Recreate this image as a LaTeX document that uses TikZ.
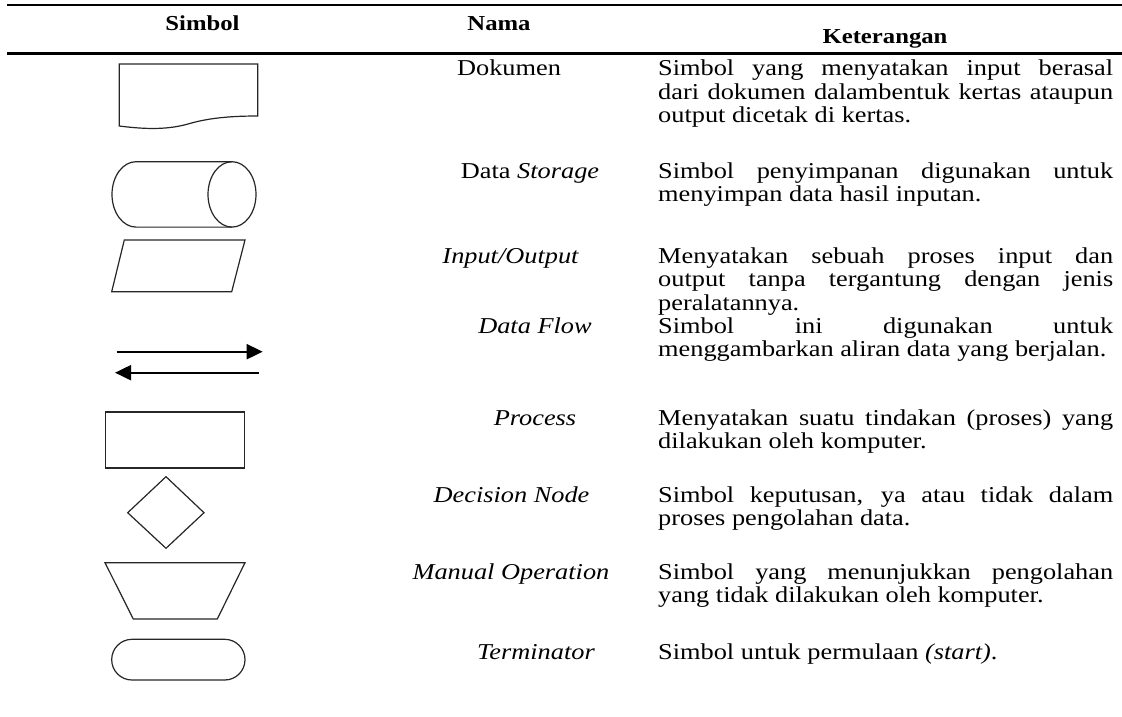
\documentclass[tikz,border=0pt]{standalone}
\usepackage{fontspec}
\setmainfont{Liberation Serif}[FakeStretch=1.16]
\usetikzlibrary{arrows.meta}
\hbadness=10000
\hfuzz=8pt
\begin{document}
\begin{tikzpicture}[x=1pt,y=-1pt,
  shp/.style={draw=black!85, line width=1.2pt, line join=miter},
  rulestyle/.style={line width=2.4pt},
  hdr/.style={font=\fontsize{21.3}{23}\selectfont\bfseries, inner sep=0, anchor=base},
  nm/.style={font=\fontsize{22.7}{23.5}\selectfont\itshape, inner sep=0, anchor=base},
  desc/.style={font=\fontsize{22.7}{23.5}\selectfont, inner sep=0, anchor=base west, text width=455pt, align=justify},
  flow/.style={line width=2pt, -{Triangle[length=16pt,width=15pt]}}]
\useasboundingbox (0,0) rectangle (1122,717);
\fill[white] (0,0) rectangle (1122,717);

% rules
\coordinate (r1a) at (7,5);   \coordinate (r1b) at (1122,5);
\coordinate (r2a) at (7,53.5); \coordinate (r2b) at (1122,53.5);
\draw[rulestyle] (r1a) -- (r1b);
\draw[rulestyle] (r2a) -- (r2b);

% header
\node[hdr] (hSimbol) at (202.5,31) {Simbol};
\node[hdr] (hNama) at (499,31) {Nama};
\node[hdr] (hKet) at (885,44) {Keterangan};

% names
\node[nm] (n1) at (509,76) {\upshape Dokumen};
\node[nm] (n2) at (530,178) {\upshape Data \itshape Storage};
\node[nm] (n3) at (510.5,263) {Input/Output};
\node[nm] (n4) at (535,333) {Data Flow};
\node[nm] (n5) at (535,425) {Process};
\node[nm] (n6) at (511.5,502) {Decision Node};
\node[nm] (n7) at (511,579) {Manual Operation};
\node[nm] (n8) at (536,659) {Terminator};

% descriptions
\node[desc] (d1) at (658,76) {Simbol yang menyatakan input berasal\linebreak dari dokumen dalambentuk kertas ataupun\linebreak output dicetak di kertas.};
\node[desc] (d2) at (658,178) {Simbol penyimpanan digunakan untuk\linebreak menyimpan data hasil inputan.};
\node[desc] (d3) at (658,263) {Menyatakan sebuah proses input dan\linebreak output tanpa tergantung dengan jenis\linebreak peralatannya.};
\node[desc] (d4) at (658,333) {Simbol ini digunakan untuk\linebreak menggambarkan aliran data yang berjalan.};
\node[desc] (d5) at (658,425) {Menyatakan suatu tindakan (proses) yang\linebreak dilakukan oleh komputer.};
\node[desc] (d6) at (658,502) {Simbol keputusan, ya atau tidak dalam\linebreak proses pengolahan data.};
\node[desc] (d7) at (658,579) {Simbol yang menunjukkan pengolahan\linebreak yang tidak dilakukan oleh komputer.};
\node[desc] (d8) at (658,659) {Simbol untuk permulaan \textit{(start)}.};

% symbols
% document
\draw[shp] (119.3,64) -- (257.7,64) -- (257.7,116)
  .. controls (225,116) and (205,119) .. (188,124)
  .. controls (170,129) and (150,130) .. (119.3,126) -- cycle;
% data storage (cylinder)
\draw[shp] (232,161.7) -- (136,161.7)
  arc[start angle=270, end angle=90, x radius=24, y radius=32.7]
  -- (232,227.1);
\draw[shp] (232,194.4) ellipse[x radius=24, y radius=32.7];
% input/output
\draw[shp] (124.3,240) -- (245,240) -- (231.7,291.7) -- (111.7,291.7) -- cycle;
% data flow
\coordinate (fa1) at (116.7,351.7); \coordinate (fa2) at (262.7,351.7);
\coordinate (fb1) at (259,372.7);   \coordinate (fb2) at (115,372.7);
\draw[flow] (fa1) -- (fa2);
\draw[flow] (fb1) -- (fb2);
% process
\draw[shp] (105.3,412) rectangle (244.3,468);
% decision
\draw[shp] (127.7,512.7) -- (166,476.7) -- (204,512.7) -- (166,548.3) -- cycle;
% manual operation
\draw[shp] (105,562.7) -- (245,562.7) -- (217.3,619) -- (133.3,619) -- cycle;
% terminator
\draw[shp, rounded corners=20.3pt] (111.7,639.3) rectangle (245,680);
\end{tikzpicture}
\end{document}
